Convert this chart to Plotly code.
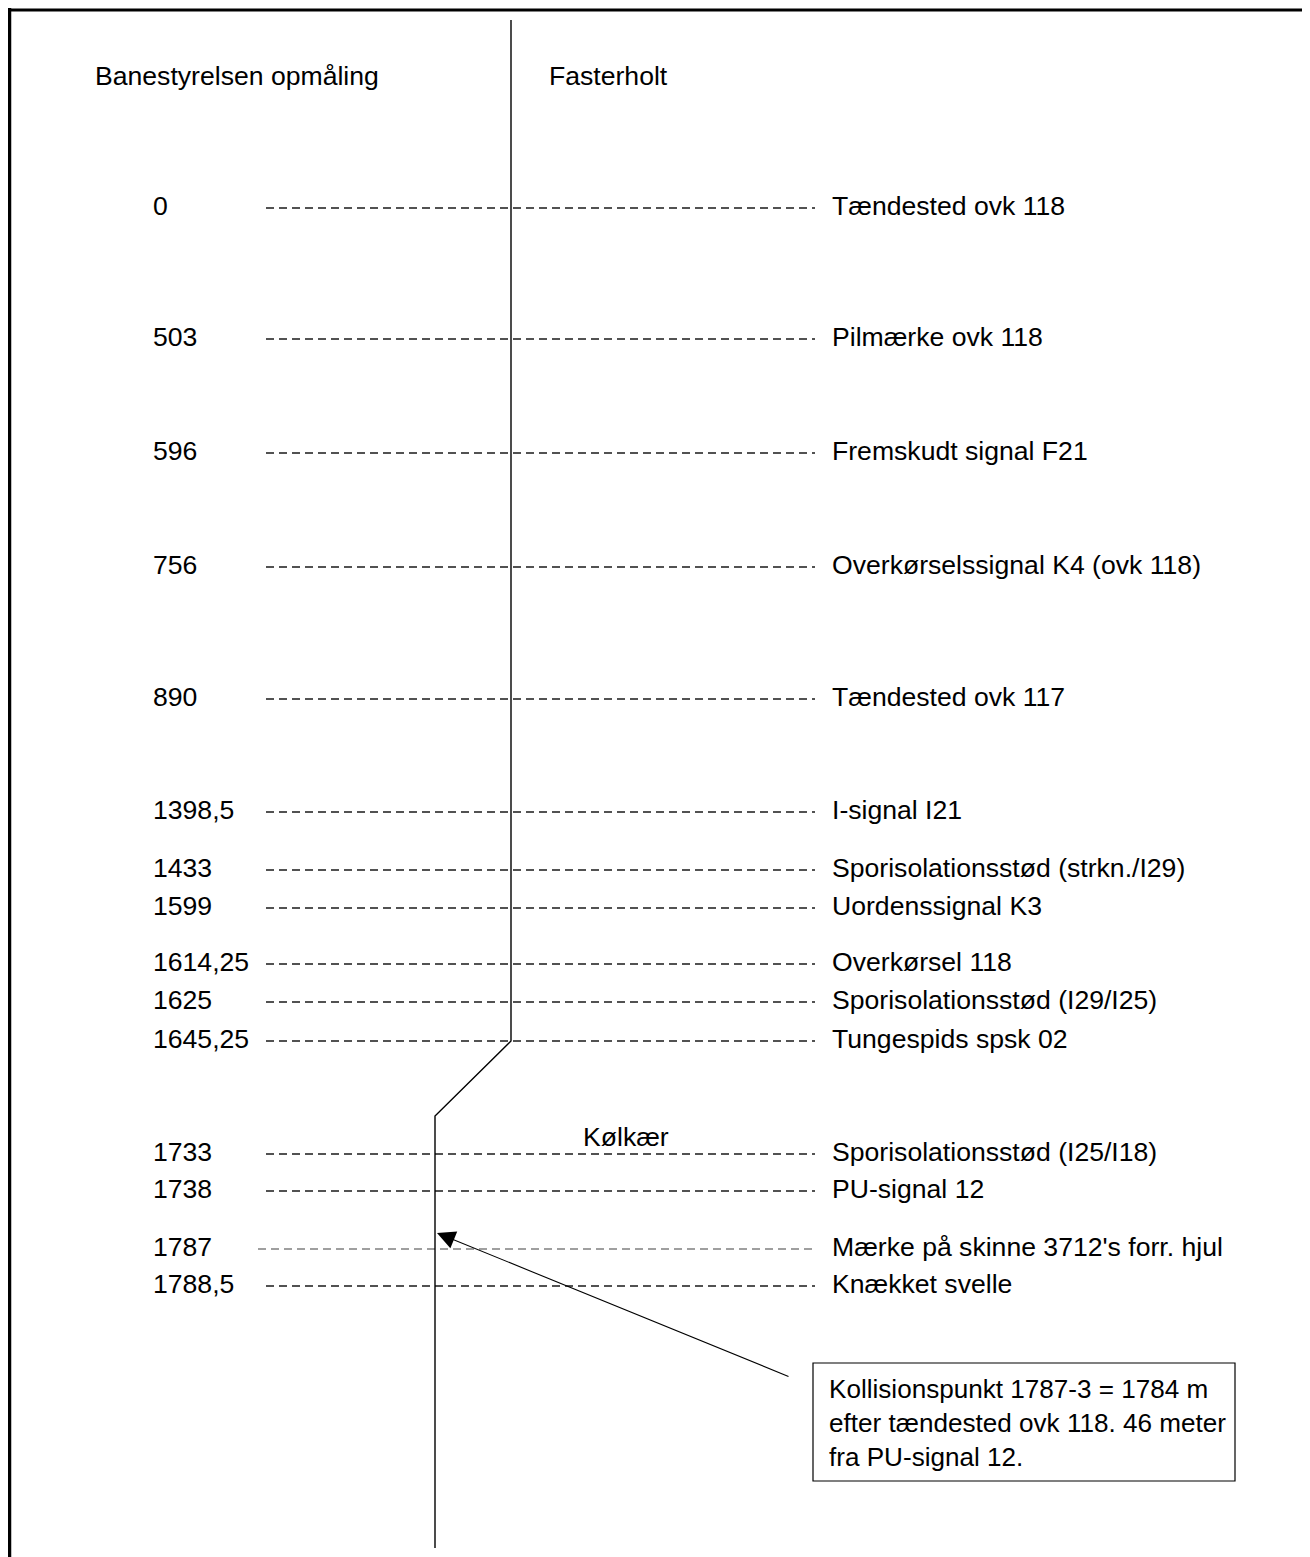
import plotly.graph_objects as go

W, H = 1310, 1557

# ---- data ----
positions_m = ["0", "503", "596", "756", "890", "1398,5", "1433", "1599",
               "1614,25", "1625", "1645,25", "1733", "1738", "1787", "1788,5"]
descriptions = ["Tændested ovk 118", "Pilmærke ovk 118", "Fremskudt signal F21",
                "Overkørselssignal K4 (ovk 118)", "Tændested ovk 117", "I-signal I21",
                "Sporisolationsstød (strkn./I29)", "Uordenssignal K3", "Overkørsel 118",
                "Sporisolationsstød (I29/I25)", "Tungespids spsk 02",
                "Sporisolationsstød (I25/I18)", "PU-signal 12",
                "Mærke på skinne 3712's forr. hjul", "Knækket svelle"]
header_left = "Banestyrelsen opmåling"
header_right = "Fasterholt"
footer = "Kølkær"
note_lines = ["Kollisionspunkt 1787-3 = 1784 m",
              "efter tændested ovk 118. 46 meter",
              "fra PU-signal 12."]
collision_mark = "1787"
switch_mark = "1645,25"

# ---- layout (schematic positions, not to scale) ----
row_y = [206, 337, 451, 565, 697, 810, 868, 906, 962, 1000, 1039, 1152, 1189, 1247, 1284]
FONT = "Liberation Sans, Arial, sans-serif"
FS = 26.6
FS_NOTE = 26.1
label_x = 151
desc_x = 830
dash_x0, dash_x1 = 266, 815
track_x_top, track_x_bot = 511, 435
OFF = 8  # page body margin

fig = go.Figure()

# dashed reference lines
for pos, ry in zip(positions_m, row_y):
    is_mark = pos == collision_mark
    fig.add_trace(go.Scatter(
        x=[258 if is_mark else dash_x0, dash_x1], y=[ry + 2, ry + 2],
        mode="lines",
        line=dict(color="#808080" if is_mark else "#1a1a1a", width=1.5, dash="8px,5px"),
        hoverinfo="skip"))

# track
sw_y = row_y[positions_m.index(switch_mark)] + 2
fig.add_trace(go.Scatter(
    x=[track_x_top, track_x_top, track_x_bot, track_x_bot],
    y=[20, sw_y, sw_y + 75, 1548],
    mode="lines", line=dict(color="black", width=1.4), hoverinfo="skip"))

annotations = []
for pos, desc, ry in zip(positions_m, descriptions, row_y):
    annotations.append(dict(x=label_x, y=ry, text=pos, xanchor="left", yanchor="middle",
                            showarrow=False, font=dict(family=FONT, size=FS, color="black")))
    annotations.append(dict(x=desc_x, y=ry, text=desc, xanchor="left", yanchor="middle",
                            showarrow=False, font=dict(family=FONT, size=FS, color="black")))

annotations += [
    dict(x=93, y=76, text=header_left, xanchor="left", yanchor="middle", showarrow=False,
         font=dict(family=FONT, size=FS, color="black")),
    dict(x=547, y=76, text=header_right, xanchor="left", yanchor="middle", showarrow=False,
         font=dict(family=FONT, size=FS, color="black")),
    dict(x=581, y=1137, text=footer, xanchor="left", yanchor="middle", showarrow=False,
         font=dict(family=FONT, size=FS, color="black")),
    dict(x=827, y=1423, text="<br>".join(note_lines), xanchor="left", yanchor="middle",
         align="left", showarrow=False, font=dict(family=FONT, size=FS_NOTE, color="black")),
    # arrow to collision point
    dict(x=437, y=1233, ax=790, ay=1377, xref="x", yref="y", axref="x", ayref="y",
         text="", showarrow=True, arrowhead=2, arrowsize=3.3, arrowwidth=1.1,
         arrowcolor="black", standoff=0, startstandoff=0),
]

shapes = [
    dict(type="rect", x0=813, x1=1235, y0=1363, y1=1481, line=dict(color="black", width=1.2),
         fillcolor="white", layer="below"),
    dict(type="line", x0=7, x1=W + OFF, y0=10, y1=10, line=dict(color="black", width=3)),
    dict(type="line", x0=9.5, x1=9.5, y0=8, y1=H + OFF, line=dict(color="black", width=3.5)),
]

fig.update_layout(
    width=W, height=H, margin=dict(l=0, r=0, t=0, b=0),
    paper_bgcolor="white", plot_bgcolor="white", showlegend=False,
    xaxis=dict(range=[OFF, W + OFF], visible=False, fixedrange=True),
    yaxis=dict(range=[H + OFF, OFF], visible=False, fixedrange=True),
    annotations=annotations, shapes=shapes,
)

fig.write_html("out.html")
